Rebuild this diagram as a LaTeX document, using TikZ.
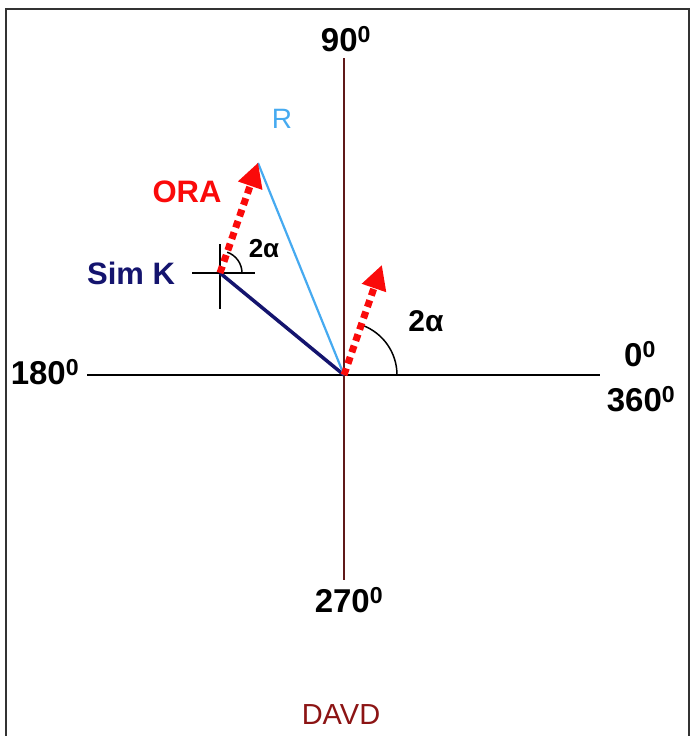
\documentclass[tikz,border=0pt]{standalone}
\usepackage{fontspec}
\setmainfont{Liberation Sans}
\usetikzlibrary{arrows.meta}
\definecolor{simblue}{RGB}{20,20,110}
\definecolor{rblue}{RGB}{70,170,240}
\definecolor{axred}{RGB}{95,25,25}
\definecolor{orared}{RGB}{250,10,10}
\definecolor{davd}{RGB}{140,20,20}

\begin{document}
\begin{tikzpicture}[x=1pt,y=1pt,
 lbl/.style={anchor=base,inner sep=0pt,font=\fontsize{33}{36}\selectfont\bfseries},
 vlbl/.style={anchor=base,inner sep=0pt,font=\fontsize{31}{34}\selectfont\bfseries},
 alpha/.style={anchor=base,inner sep=0pt,font=\fontsize{#1}{#1}\selectfont\bfseries},
 ora/.style={orared,line width=7pt,line cap=butt,dash pattern=on 7pt off 5pt,
   -{Triangle[width=26pt,length=24pt,line width=0pt]}},
 ang/.style={line width=1.5pt}]
\useasboundingbox (0,0) rectangle (691,736);
\draw[line width=2pt,black!80] (6,0) -- (6,727) -- (689,727) -- (689,0);
\coordinate (O) at (344,361);
\coordinate (S) at (220,463);
\coordinate (R) at (258,573);
\coordinate (xl) at (87,361); \coordinate (xr) at (600,361);
\coordinate (yt) at (344,678); \coordinate (yb) at (344,156);
% axes
\draw[line width=1.5pt] (xl) -- (xr);
\draw[axred,line width=1.5pt] (yb) -- (yt);
% crosshair at Sim K
\draw[line width=1.5pt] ([xshift=-28pt]S) -- ([xshift=35pt]S);
\draw[line width=1.5pt] ([yshift=-36pt]S) -- ([yshift=29pt]S);
% angles
\draw[ang] ([xshift=22pt]S) arc (0:71:22pt);
\draw[ang] ([xshift=53pt]O) arc (0:70:53pt);
% vectors
\draw[simblue,line width=3.5pt] (S) -- (O);
\draw[rblue,line width=2.2pt] (R) -- (O);
\draw[ora] (S) -- (R);
\draw[ora] (O) -- ++(71:116) coordinate (P);
% labels
\node[lbl] (n90) at (346,684) {90\textsuperscript{0}};
\node[lbl] (n180) at (45,351) {180\textsuperscript{0}};
\node[lbl] (n0) at (640,369) {0\textsuperscript{0}};
\node[lbl] (n360) at (641,324) {360\textsuperscript{0}};
\node[lbl] (n270) at (349,123) {270\textsuperscript{0}};
\node[anchor=base,inner sep=0pt,davd,font=\fontsize{29}{32}\selectfont] (davd) at (341,11) {DAVD};
\node[vlbl,rblue,font=\fontsize{28}{30}\selectfont] (lr) at (282,607) {R};
\node[vlbl,orared] (lora) at (187,533) {ORA};
\node[vlbl,simblue] (lsim) at (131,451) {Sim K};
\node[alpha=26] (a1) at (264,478) {2α};
\node[alpha=30] (a2) at (426,404) {2α};
\end{tikzpicture}
\end{document}
